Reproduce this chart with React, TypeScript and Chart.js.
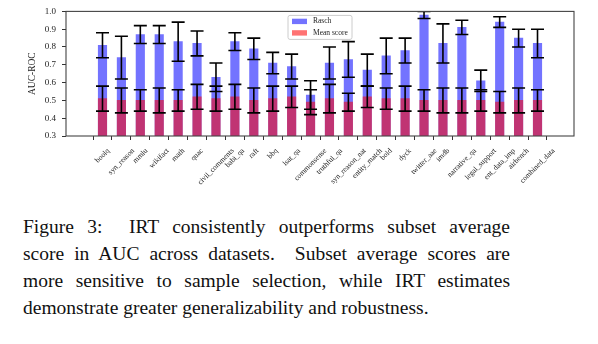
import React, { useEffect, useRef } from 'react';
import { Chart, registerables } from 'chart.js';

Chart.register(...registerables);

const categories = [
  'boolq', 'syn_reason', 'mmlu', 'wikifact', 'math', 'quac', 'civil_comments', 'babi_qa',
  'raft', 'bbq', 'lsat_qa', 'commonsense', 'truthful_qa', 'syn_reason_nat', 'entity_match',
  'bold', 'dyck', 'twitter_aae', 'imdb', 'narrative_qa', 'legal_support', 'ent_data_imp',
  'airbench', 'combined_data',
];
const raschMean = [0.81, 0.74, 0.87, 0.87, 0.83, 0.82, 0.63, 0.83, 0.79, 0.71, 0.69, 0.53, 0.71, 0.73, 0.67, 0.75, 0.78, 0.98, 0.82, 0.91, 0.61, 0.94, 0.85, 0.82];
const raschErr = [0.07, 0.12, 0.05, 0.05, 0.11, 0.07, 0.08, 0.05, 0.06, 0.06, 0.07, 0.08, 0.09, 0.10, 0.09, 0.10, 0.07, 0.02, 0.11, 0.04, 0.06, 0.03, 0.05, 0.08];
const meanScore = [0.51, 0.50, 0.50, 0.50, 0.50, 0.52, 0.51, 0.52, 0.50, 0.51, 0.52, 0.49, 0.51, 0.49, 0.52, 0.51, 0.51, 0.50, 0.50, 0.50, 0.50, 0.49, 0.50, 0.50];
const meanErr = [0.07, 0.07, 0.06, 0.07, 0.06, 0.07, 0.07, 0.07, 0.07, 0.07, 0.06, 0.07, 0.08, 0.05, 0.06, 0.06, 0.07, 0.06, 0.07, 0.07, 0.06, 0.06, 0.07, 0.06];
const yTicks = [0.3, 0.4, 0.5, 0.6, 0.7, 0.8, 0.9, 1.0];
const seriesNames = ['Rasch', 'Mean score'];
const captionLines = [
  'Figure 3:\u00a0 IRT consistently outperforms subset average',
  'score in AUC across datasets.\u00a0 Subset average scores are',
  'more sensitive to sample selection, while IRT estimates',
  'demonstrate greater generalizability and robustness.',
];

const SERIF = '"Liberation Serif", "Times New Roman", serif';
const BLUE = 'rgba(0,0,255,0.55)';
const RED = 'rgba(255,0,0,0.55)';

const errorBarPlugin = {
  id: 'errorBars',
  afterDatasetsDraw(chart: any) {
    const { ctx, chartArea, scales } = chart;
    const x = scales.x;
    const y = scales.y;
    ctx.save();
    ctx.beginPath();
    ctx.rect(chartArea.left, chartArea.top, chartArea.right - chartArea.left, chartArea.bottom - chartArea.top);
    ctx.clip();
    ctx.strokeStyle = '#000';
    ctx.lineWidth = 1.6;
    const cap = 6.5;
    const draw = (means: number[], errs: number[]) => {
      means.forEach((m, i) => {
        const px = x.getPixelForValue(i);
        const y1 = y.getPixelForValue(m + errs[i]);
        const y2 = y.getPixelForValue(m - errs[i]);
        ctx.beginPath();
        ctx.moveTo(px, y1);
        ctx.lineTo(px, y2);
        ctx.moveTo(px - cap, y1);
        ctx.lineTo(px + cap, y1);
        ctx.moveTo(px - cap, y2);
        ctx.lineTo(px + cap, y2);
        ctx.stroke();
      });
    };
    draw(raschMean, raschErr);
    draw(meanScore, meanErr);
    ctx.restore();
  },
};

const decorPlugin = {
  id: 'decor',
  afterDraw(chart: any) {
    const { ctx, chartArea, scales } = chart;
    const x = scales.x;
    // frame
    ctx.save();
    ctx.strokeStyle = '#444';
    ctx.lineWidth = 1.1;
    ctx.strokeRect(chartArea.left, chartArea.top, chartArea.right - chartArea.left, chartArea.bottom - chartArea.top);
    ctx.restore();

    // rotated x labels, matplotlib-style (bbox centred on tick)
    ctx.save();
    const fs = 7.5;
    ctx.font = `${fs}px ${SERIF}`;
    ctx.fillStyle = '#222';
    const labelTop = chartArea.bottom + 11;
    categories.forEach((c, i) => {
      const px = x.getPixelForValue(i);
      const w = ctx.measureText(c).width;
      const bw = (w + fs) * Math.SQRT1_2;
      ctx.save();
      ctx.translate(px, labelTop + bw / 2);
      ctx.rotate(-Math.PI / 4);
      ctx.textAlign = 'center';
      ctx.textBaseline = 'middle';
      ctx.fillText(c, 0, 0);
      ctx.restore();
    });
    ctx.restore();

    // legend
    ctx.save();
    const lx = chartArea.left + 222;
    const ly = chartArea.top + 4;
    const lw = 64;
    const lh = 24;
    ctx.fillStyle = 'rgba(255,255,255,0.85)';
    ctx.strokeStyle = '#ccc';
    ctx.lineWidth = 1;
    ctx.beginPath();
    if (ctx.roundRect) ctx.roundRect(lx, ly, lw, lh, 2); else ctx.rect(lx, ly, lw, lh);
    ctx.fill();
    ctx.stroke();
    const colors = [BLUE, RED];
    ctx.font = `7.5px ${SERIF}`;
    ctx.textBaseline = 'middle';
    seriesNames.forEach((n, k) => {
      const cy = ly + 6 + k * 11.5;
      ctx.fillStyle = colors[k];
      ctx.fillRect(lx + 4, cy - 2.7, 15, 5.4);
      ctx.fillStyle = '#222';
      ctx.fillText(n, lx + 25, cy);
    });
    ctx.restore();
  },
};

export default function App() {
  const ref = useRef<HTMLCanvasElement | null>(null);
  useEffect(() => {
    if (!ref.current) return;
    const chart = new Chart(ref.current, {
      type: 'bar',
      data: {
        datasets: [
          {
            label: seriesNames[0],
            data: raschMean.map((v, i) => ({ x: i, y: v })),
            backgroundColor: BLUE,
            grouped: false,
            barThickness: 8.5,
            order: 1,
          } as any,
          {
            label: seriesNames[1],
            data: meanScore.map((v, i) => ({ x: i, y: v })),
            backgroundColor: RED,
            grouped: false,
            barThickness: 8.5,
            order: 0,
          } as any,
        ],
      },
      options: {
        animation: false,
        responsive: false,
        maintainAspectRatio: false,
        devicePixelRatio: 1,
        layout: { padding: { top: 8, right: 24, left: 0, bottom: 0 } },
        plugins: { legend: { display: false }, tooltip: { enabled: false } },
        scales: {
          x: {
            type: 'linear',
            min: -1.37,
            max: 24.37,
            afterBuildTicks: (s: any) => {
              s.ticks = categories.map((_, i) => ({ value: i }));
            },
            ticks: { display: false },
            grid: { drawOnChartArea: false, drawTicks: true, tickLength: 4, color: '#333' },
            border: { display: false },
            afterFit: (s: any) => {
              s.height = 64;
            },
          },
          y: {
            min: 0.3,
            max: 1.0,
            afterBuildTicks: (s: any) => {
              s.ticks = yTicks.map((v) => ({ value: v }));
            },
            ticks: {
              callback: (v: any) => Number(v).toFixed(1),
              font: { family: SERIF, size: 9 },
              color: '#222',
              padding: 6,
            },
            grid: { drawOnChartArea: false, drawTicks: true, tickLength: 4, color: '#333' },
            border: { display: false },
            title: {
              display: true,
              text: 'AUC-ROC',
              font: { family: SERIF, size: 9.5, lineHeight: 1.2 },
              color: '#222',
              padding: { top: 27, bottom: 0 },
            },
            afterFit: (s: any) => {
              s.width = 66;
            },
          },
        },
      } as any,
      plugins: [errorBarPlugin, decorPlugin],
    });
    return () => chart.destroy();
  }, []);

  return (
    <div style={{ position: 'fixed', left: 0, top: 0, width: 598, height: 344, background: '#fff', overflow: 'hidden' }}>
      <canvas ref={ref} width={598} height={200} style={{ position: 'absolute', left: 0, top: 0, width: 598, height: 200 }} />
      <div
        style={{
          position: 'absolute',
          left: 23,
          top: 213,
          width: 487,
          fontFamily: SERIF,
          fontSize: 19.5,
          lineHeight: '27px',
          color: '#111',
        }}
      >
        {captionLines.map((l, i) => (
          <div
            key={i}
            style={{
              textAlign: i === captionLines.length - 1 ? 'left' : 'justify',
              textAlignLast: i === captionLines.length - 1 ? 'left' : 'justify',
            }}
          >
            {l}
          </div>
        ))}
      </div>
    </div>
  );
}
